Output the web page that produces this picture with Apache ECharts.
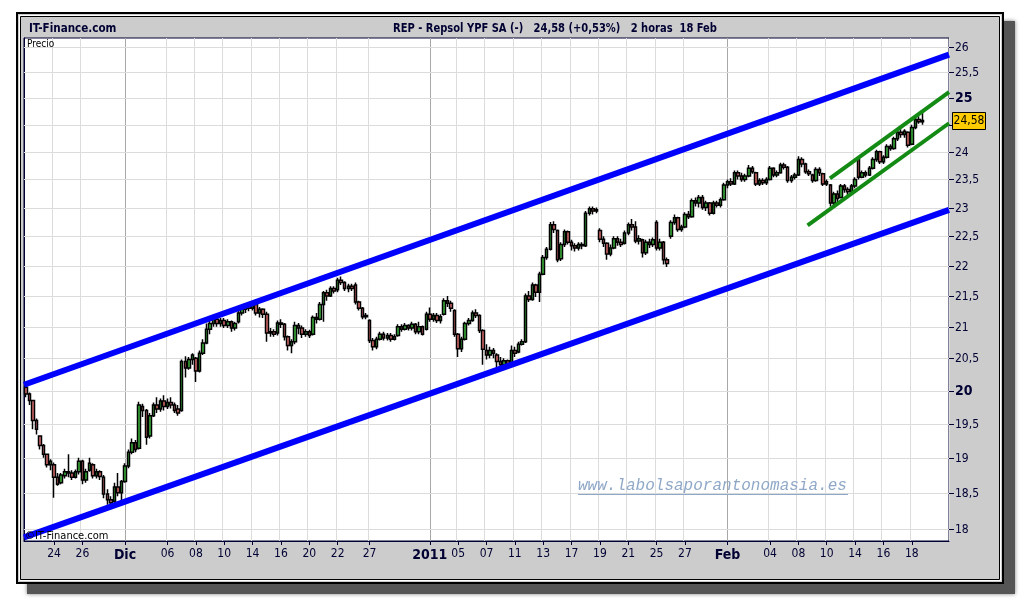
<!DOCTYPE html>
<html lang="es">
<head>
<meta charset="UTF-8">
<title>REP - Repsol YPF SA</title>
<script src="https://cdn.jsdelivr.net/npm/echarts@6/dist/echarts.min.js"></script>
<style>
  html, body { margin: 0; padding: 0; background: #fff; }
  #chart { width: 1020px; height: 600px; }
</style>
</head>
<body>
<div id="chart"></div>
<script>
// sesiones (velas de 2 horas, 4 por dia; 24/12 y 31/12 media sesion)
var tradingDays = [
  '22/11','23/11','24/11','25/11','26/11','29/11','30/11',
  '01/12','02/12','03/12','06/12','07/12','08/12','09/12','10/12','13/12','14/12','15/12','16/12','17/12',
  '20/12','21/12','22/12','23/12','24/12','27/12','28/12','29/12','30/12','31/12',
  '03/01','04/01','05/01','06/01','07/01','10/01','11/01','12/01','13/01','14/01','17/01','18/01','19/01',
  '20/01','21/01','24/01','25/01','26/01','27/01','28/01','31/01',
  '01/02','02/02','03/02','04/02','07/02','08/02','09/02','10/02','11/02','14/02','15/02','16/02','17/02','18/02'
];
var halfDays = ['24/12', '31/12'];
var sessionHours = ['09h', '11h', '13h', '15h'];

// etiquetas del eje X
var xTickLabels = {
  '24/11': '24', '26/11': '26', '01/12': 'Dic', '06/12': '06', '08/12': '08', '10/12': '10',
  '14/12': '14', '16/12': '16', '20/12': '20', '22/12': '22', '27/12': '27', '03/01': '2011',
  '05/01': '05', '07/01': '07', '11/01': '11', '13/01': '13', '17/01': '17', '19/01': '19',
  '21/01': '21', '25/01': '25', '27/01': '27', '01/02': 'Feb', '04/02': '04', '08/02': '08',
  '10/02': '10', '14/02': '14', '16/02': '16', '18/02': '18'
};
var monthLabels = ['Dic', '2011', 'Feb'];

// etiquetas del eje Y (escala logaritmica)
var yTicks = [18, 18.5, 19, 19.5, 20, 20.5, 21, 21.5, 22, 22.5, 23, 23.5, 24, 24.5, 25, 25.5, 26];
var yBold = [20, 25];

// velas [apertura, cierre, minimo, maximo]
var candles = [
  [20.05,19.95,19.90,20.08],[19.95,19.85,19.78,19.97],[19.85,19.55,19.42,19.86],[19.55,19.42,19.34,19.58],
  [19.32,19.18,19.12,19.33],[19.18,19.05,19.00,19.20],[19.05,18.90,18.86,19.06],[18.90,18.95,18.82,18.98],
  [18.90,18.72,18.43,18.93],[18.72,18.62,18.60,18.78],[18.64,18.75,18.62,18.78],[18.74,18.80,18.70,18.84],
  [18.80,18.78,18.72,19.05],[18.78,18.72,18.68,18.82],[18.72,18.80,18.70,18.83],[18.80,18.95,18.76,19.00],
  [18.95,18.68,18.62,18.97],[18.68,18.80,18.64,18.84],[18.82,18.92,18.80,19.00],[18.90,18.74,18.70,18.92],
  [18.74,18.80,18.70,18.84],[18.80,18.73,18.68,18.82],[18.72,18.48,18.42,18.75],[18.48,18.40,18.33,18.55],
  [18.40,18.36,18.30,18.45],[18.38,18.58,18.35,18.64],[18.58,18.50,18.45,18.78],[18.50,18.66,18.38,18.68],
  [18.66,18.88,18.64,18.92],[18.88,19.08,18.85,19.12],[19.08,19.22,19.05,19.28],[19.22,19.12,19.08,19.26],
  [19.14,19.78,19.12,19.83],[19.76,19.70,19.60,19.80],[19.70,19.30,19.19,19.72],[19.32,19.62,19.28,19.66],
  [19.62,19.78,19.60,19.82],[19.78,19.72,19.66,19.90],[19.72,19.84,19.68,19.88],[19.84,19.76,19.70,19.93],
  [19.76,19.82,19.72,19.88],[19.82,19.78,19.73,19.90],[19.78,19.70,19.66,19.82],[19.72,19.66,19.62,19.78],
  [19.70,20.45,19.68,20.48],[20.45,20.35,20.20,20.53],[20.35,20.48,20.32,20.52],[20.48,20.55,20.40,20.58],
  [20.50,20.30,20.13,20.52],[20.30,20.58,20.28,20.62],[20.58,20.74,20.55,20.80],[20.74,20.96,20.72,21.05],
  [20.96,21.05,20.88,21.10],[21.05,21.12,21.00,21.18],[21.12,21.05,21.00,21.16],[21.05,21.10,21.00,21.14],
  [21.10,21.02,20.98,21.14],[21.02,21.08,20.98,21.12],[21.08,20.98,20.92,21.10],[20.98,21.05,20.94,21.08],
  [21.08,21.22,21.05,21.28],[21.22,21.28,21.18,21.32],[21.28,21.34,21.22,21.38],[21.34,21.30,21.25,21.40],
  [21.30,21.36,21.26,21.42],[21.36,21.22,21.18,21.38],[21.22,21.28,21.15,21.32],[21.28,21.20,21.14,21.30],
  [21.20,20.90,20.76,21.24],[20.90,20.92,20.84,20.98],[20.92,20.88,20.84,20.96],[20.90,21.06,20.86,21.10],
  [21.06,21.04,20.98,21.12],[21.04,20.84,20.78,21.06],[20.84,20.70,20.62,20.86],[20.70,20.76,20.58,20.80],
  [20.76,21.02,20.72,21.08],[21.02,20.98,20.88,21.06],[20.98,20.88,20.82,21.02],[20.88,20.92,20.84,20.96],
  [20.92,20.86,20.82,20.95],[20.88,21.15,20.86,21.18],[21.15,21.12,21.05,21.22],[21.12,21.36,21.10,21.40],
  [21.36,21.55,21.08,21.58],[21.55,21.50,21.42,21.60],[21.50,21.62,21.48,21.66],[21.62,21.58,21.54,21.66],
  [21.60,21.76,21.56,21.80],[21.76,21.72,21.68,21.82],[21.72,21.62,21.58,21.74],[21.62,21.66,21.56,21.70],
  [21.66,21.62,21.58,21.70],[21.68,21.40,21.36,21.72],[21.40,21.30,21.26,21.42],[21.30,21.16,21.12,21.32],
  [21.16,21.18,21.12,21.22],
  [21.10,20.78,20.74,21.12],[20.78,20.68,20.62,20.82],[20.68,20.80,20.64,20.84],[20.80,20.88,20.78,20.92],
  [20.88,20.82,20.78,20.92],[20.82,20.86,20.78,20.90],[20.86,20.80,20.76,20.90],[20.80,20.84,20.78,20.88],
  [20.86,21.00,20.84,21.04],[21.00,20.96,20.92,21.04],[20.96,21.02,20.94,21.06],[21.02,20.98,20.94,21.04],
  [20.98,21.04,20.94,21.08],[21.04,20.92,20.88,21.06],[20.92,21.00,20.88,21.08],[21.00,20.88,20.86,21.02],
  [20.96,21.20,20.94,21.24],
  [21.20,21.12,21.08,21.31],[21.12,21.18,21.08,21.22],[21.18,21.10,21.06,21.22],[21.10,21.16,21.05,21.20],
  [21.20,21.42,21.18,21.46],[21.42,21.38,21.32,21.50],[21.38,21.30,21.24,21.42],[21.26,20.88,20.84,21.28],
  [20.88,20.65,20.52,20.90],[20.65,20.80,20.60,20.84],[20.80,21.05,20.78,21.08],[21.05,21.10,21.02,21.14],
  [21.10,21.22,21.08,21.26],[21.22,21.18,21.14,21.28],[21.18,20.94,20.90,21.20],[20.94,20.64,20.40,20.96],
  [20.62,20.55,20.48,20.72],[20.55,20.62,20.50,20.68],[20.62,20.58,20.50,20.66],[20.55,20.45,20.36,20.58],
  [20.45,20.40,20.36,20.52],[20.40,20.46,20.36,20.50],[20.46,20.42,20.36,20.48],[20.42,20.62,20.38,20.70],
  [20.62,20.58,20.52,20.68],[20.60,20.72,20.58,20.76],[20.72,20.76,20.70,20.80],[20.76,21.50,20.74,21.54],
  [21.50,21.44,21.40,21.58],[21.44,21.68,21.42,21.72],[21.68,21.56,21.48,21.70],[21.56,21.86,21.40,21.90],
  [21.86,22.14,21.84,22.18],[22.14,22.28,22.10,22.32],[22.28,22.70,22.26,22.75],[22.70,22.62,22.56,22.76],
  [22.60,22.10,22.06,22.62],[22.12,22.36,22.08,22.40],[22.36,22.58,22.32,22.62],[22.58,22.40,22.36,22.60],
  [22.40,22.34,22.26,22.44],[22.34,22.30,22.24,22.38],[22.30,22.36,22.26,22.40],[22.36,22.34,22.28,22.40],
  [22.34,22.90,22.32,22.94],[22.90,22.98,22.86,23.02],[22.98,22.94,22.88,23.02],[22.94,22.96,22.90,23.00],
  [22.60,22.45,22.40,22.64],[22.45,22.38,22.32,22.50],[22.38,22.20,22.10,22.40],[22.20,22.30,22.16,22.36],
  [22.30,22.46,22.28,22.50],[22.46,22.40,22.34,22.50],[22.40,22.36,22.32,22.46],[22.38,22.56,22.36,22.60],
  [22.56,22.70,22.52,22.74],[22.70,22.66,22.60,22.80],[22.66,22.42,22.38,22.76],[22.42,22.46,22.36,22.52],
  [22.44,22.22,22.14,22.46],[22.22,22.40,22.18,22.44],[22.40,22.36,22.30,22.46],[22.36,22.44,22.32,22.48],
  [22.74,22.30,22.26,22.78],[22.30,22.40,22.26,22.46],[22.40,22.10,22.02,22.42],[22.10,22.04,21.98,22.14],
  [22.50,22.74,22.46,22.78],[22.74,22.82,22.70,22.88],[22.82,22.62,22.58,22.84],[22.62,22.66,22.58,22.70],
  [22.66,22.88,22.64,22.92],[22.88,22.84,22.80,22.94],[22.84,23.12,22.82,23.16],[23.12,23.08,23.02,23.18],
  [23.08,23.18,23.00,23.22],[23.18,23.00,22.96,23.22],[23.00,23.08,22.94,23.12],[23.08,22.90,22.86,23.10],
  [22.90,23.08,22.88,23.12],[23.08,23.04,23.00,23.12],[23.04,23.14,23.00,23.18],[23.14,23.40,23.12,23.44],
  [23.40,23.46,23.34,23.50],[23.46,23.42,23.38,23.52],[23.42,23.62,23.40,23.66],[23.62,23.56,23.50,23.66],
  [23.56,23.50,23.46,23.62],[23.50,23.56,23.46,23.60],[23.56,23.70,23.54,23.76],[23.70,23.64,23.60,23.74],
  [23.62,23.42,23.38,23.64],[23.42,23.48,23.38,23.52],[23.48,23.44,23.40,23.52],[23.44,23.50,23.40,23.54],
  [23.50,23.70,23.48,23.74],[23.70,23.58,23.54,23.72],[23.58,23.62,23.54,23.66],[23.62,23.76,23.60,23.80],
  [23.76,23.72,23.68,23.80],[23.72,23.48,23.44,23.74],[23.48,23.54,23.44,23.58],[23.54,23.58,23.50,23.62],
  [23.58,23.86,23.56,23.92],[23.86,23.78,23.72,23.90],[23.78,23.64,23.60,23.80],[23.64,23.60,23.56,23.68],
  [23.58,23.48,23.44,23.60],[23.48,23.68,23.46,23.72],[23.68,23.62,23.56,23.72],[23.60,23.42,23.38,23.62],
  [23.42,23.46,23.38,23.50],[23.40,23.08,23.02,23.42],[23.08,23.24,23.04,23.28],[23.24,23.16,23.10,23.30],
  [23.18,23.38,23.16,23.42],[23.38,23.32,23.26,23.42],[23.32,23.28,23.22,23.36],[23.28,23.38,23.24,23.42],
  [23.38,23.50,23.34,23.54],[23.86,23.54,23.50,23.90],[23.54,23.62,23.52,23.66],[23.62,23.58,23.54,23.66],
  [23.58,23.70,23.56,23.74],[23.70,23.86,23.68,23.90],[23.86,24.00,23.82,24.04],[24.00,23.82,23.78,24.02],
  [23.82,23.90,23.78,23.94],[23.90,24.10,23.88,24.14],[24.10,24.06,24.02,24.14],[24.06,24.24,24.04,24.28],
  [24.24,24.36,24.20,24.40],[24.36,24.32,24.26,24.42],[24.32,24.38,24.26,24.42],[24.36,24.12,24.08,24.38],
  [24.14,24.45,24.12,24.50],[24.45,24.60,24.42,24.64],[24.60,24.56,24.52,24.66],[24.56,24.58,24.50,24.75]
];

// lineas de canal: [posicion en velas, precio]
var blueUpper = [[0, 20.09], [261, 25.85]];
var blueLower = [[0, 17.88], [261, 22.96]];
var greenUpper = [[227.4, 23.52], [261, 25.12]];
var greenLower = [[221.1, 22.69], [261, 24.53]];

var lastPrice = 24.58;
var headerText = 'REP - Repsol YPF SA (-)   24,58 (+0,53%)   2 horas  18 Feb';

var emptySlots = 7;
var narrow = "'Liberation Sans Narrow','DejaVu Sans Condensed','Liberation Sans',sans-serif";
var navy = '#000033';

// categorias del eje X
var categories = [];
var labelAt = {};
var monthAt = [];
tradingDays.forEach(function (d) {
  var n = halfDays.indexOf(d) >= 0 ? 1 : sessionHours.length;
  if (xTickLabels[d]) {
    labelAt[categories.length] = xTickLabels[d];
    if (monthLabels.indexOf(xTickLabels[d]) >= 0) monthAt.push(categories.length);
  }
  for (var k = 0; k < n; k++) categories.push(d + ' ' + sessionHours[k]);
});
for (var e = 0; e < emptySlots; e++) categories.push('+' + e);
var totalSlots = categories.length;

function fmt(v) { return String(v).replace('.', ','); }
function showAt(i) { return labelAt.hasOwnProperty(i); }
function showGrid(i) { return showAt(i) && monthAt.indexOf(i) < 0; }

var chart = echarts.init(document.getElementById('chart'), null, { renderer: 'canvas' });

var option = {
  animation: false,
  backgroundColor: '#fff',
  graphic: [
    { type: 'rect', z: -20, shape: { x: 27, y: 21, width: 988, height: 573 },
      style: { fill: '#555', shadowBlur: 4, shadowColor: 'rgba(0,0,0,0.5)' } },
    { type: 'rect', z: -19, shape: { x: 17, y: 13, width: 986, height: 570 },
      style: { fill: '#cccccc', stroke: '#000', lineWidth: 2 } },
    { type: 'rect', z: -18, shape: { x: 19.5, y: 15.5, width: 981, height: 565 },
      style: { fill: 'none', stroke: '#fff', lineWidth: 1 } },
    { type: 'rect', z: -18, shape: { x: 20.5, y: 16.5, width: 979, height: 563 },
      style: { fill: 'none', stroke: '#000', lineWidth: 1 } },
    { type: 'text', z: 10, x: 29, y: 29, scaleX: 0.89,
      style: { text: 'IT-Finance.com', font: 'bold 13px ' + narrow, fill: navy, verticalAlign: 'middle' } },
    { type: 'text', z: 10, x: 555, y: 29, scaleX: 0.85,
      style: { text: headerText, font: 'bold 13px ' + narrow, fill: navy, align: 'center', verticalAlign: 'middle' } },
    { type: 'text', z: 10, x: 27, y: 44,
      style: { text: 'Precio', font: '10px ' + narrow, fill: '#000', verticalAlign: 'middle' } },
    { type: 'text', z: 10, x: 25, y: 536,
      style: { text: '\u00a9IT-Finance.com', font: '11px ' + narrow, fill: '#000', verticalAlign: 'middle' } },
    { type: 'text', z: 5, x: 578, y: 486,
      style: { text: 'www.labolsaporantonomasia.es', font: 'italic 16px "Liberation Mono","DejaVu Sans Mono",monospace',
               fill: '#8fa8c8', verticalAlign: 'middle' } },
    { type: 'line', z: 5, shape: { x1: 578, y1: 494.5, x2: 848, y2: 494.5 },
      style: { stroke: '#8fa8c8', lineWidth: 1 } }
  ],
  grid: {
    left: 24, right: 71, top: 38, bottom: 59,
    show: true, backgroundColor: '#fff', borderColor: navy, borderWidth: 1
  },
  xAxis: [{
    type: 'category',
    data: categories,
    boundaryGap: true,
    axisLine: { lineStyle: { color: navy } },
    axisTick: { show: true, interval: showAt, alignWithLabel: true, length: 4, lineStyle: { color: navy } },
    axisLabel: {
      interval: showAt, margin: 7, color: navy, fontFamily: narrow, fontSize: 12,
      formatter: function (v, i) {
        var t = labelAt[i] || '';
        return monthLabels.indexOf(t) >= 0 ? '{b|' + t + '}' : t;
      },
      rich: { b: { fontWeight: 'bold', fontSize: 14, fontFamily: narrow, color: navy } }
    },
    splitLine: { show: true, interval: showGrid, lineStyle: { color: '#dcdcdc', width: 1 } }
  }, {
    type: 'value', min: 0, max: totalSlots, show: false
  }],
  yAxis: [{
    type: 'log', logBase: 10, min: 17.83, max: 26.18, position: 'right',
    axisLine: { show: true, lineStyle: { color: navy } },
    axisTick: { show: false }, axisLabel: { show: false }, splitLine: { show: false }
  }],
  series: [{
    // rejilla horizontal y etiquetas de precio
    type: 'custom', xAxisIndex: 1, yAxisIndex: 0, z: 1, silent: true, clip: false,
    data: yTicks.map(function (v) { return [0, v]; }),
    renderItem: function (params, api) {
      var v = api.value(1);
      var y = Math.round(api.coord([0, v])[1]) + 0.5;
      var cs = params.coordSys;
      var right = cs.x + cs.width;
      var bold = yBold.indexOf(v) >= 0;
      return { type: 'group', children: [
        { type: 'line', shape: { x1: cs.x, y1: y, x2: right, y2: y }, style: { stroke: '#dcdcdc', lineWidth: 1 } },
        { type: 'line', shape: { x1: right, y1: y, x2: right + 5, y2: y }, style: { stroke: navy, lineWidth: 1 } },
        { type: 'text', x: right + 6, y: y,
          style: { text: fmt(v), fill: navy, verticalAlign: 'middle',
                   font: (bold ? 'bold 14px ' : '12px ') + narrow } }
      ] };
    }
  }, {
    type: 'candlestick', xAxisIndex: 0, yAxisIndex: 0, z: 2,
    data: candles,
    barWidth: 3,
    itemStyle: { color: '#3cb43c', color0: '#d96b6b', borderColor: '#000', borderColor0: '#000', borderWidth: 1.5 },
    markLine: {
      silent: true, symbol: 'none', label: { show: false }, z: 1,
      lineStyle: { color: '#a8a8a8', width: 1, type: 'solid' },
      data: monthAt.map(function (i) { return { xAxis: i }; })
    }
  }, {
    type: 'line', xAxisIndex: 1, yAxisIndex: 0, z: 4, silent: true, symbol: 'none',
    data: blueUpper, lineStyle: { color: '#0000ff', width: 6 }
  }, {
    type: 'line', xAxisIndex: 1, yAxisIndex: 0, z: 4, silent: true, symbol: 'none',
    data: blueLower, lineStyle: { color: '#0000ff', width: 6 }
  }, {
    type: 'line', xAxisIndex: 1, yAxisIndex: 0, z: 4, silent: true, symbol: 'none',
    data: greenUpper, lineStyle: { color: '#138a13', width: 4 }
  }, {
    type: 'line', xAxisIndex: 1, yAxisIndex: 0, z: 4, silent: true, symbol: 'none',
    data: greenLower, lineStyle: { color: '#138a13', width: 4 }
  }, {
    // recuadro del ultimo precio
    type: 'custom', xAxisIndex: 1, yAxisIndex: 0, z: 6, silent: true, clip: false,
    data: [[0, lastPrice]],
    renderItem: function (params, api) {
      var y = Math.round(api.coord([0, api.value(1)])[1]);
      var right = params.coordSys.x + params.coordSys.width;
      return { type: 'group', children: [
        { type: 'rect', shape: { x: right + 3.5, y: y - 8.5, width: 33, height: 17 },
          style: { fill: '#ffcc00', stroke: '#000', lineWidth: 1 } },
        { type: 'text', x: right + 20, y: y,
          style: { text: fmt(lastPrice), fill: '#000', align: 'center', verticalAlign: 'middle', font: '12px ' + narrow } }
      ] };
    }
  }]
};

chart.setOption(option);
</script>
</body>
</html>
